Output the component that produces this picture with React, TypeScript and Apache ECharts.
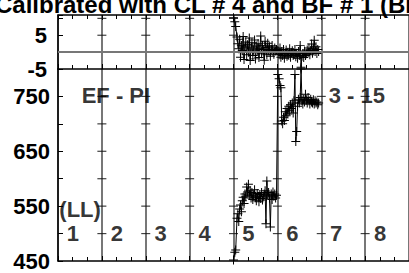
import React, { useEffect, useRef } from "react";
import * as echarts from "echarts";

const titleText = "Calibrated with CL # 4 and BF # 1 (BF)";

const xA = [4.00, 4.03, 4.05, 4.08, 4.10, 4.12, 4.14, 4.16, 4.18, 4.20, 4.22, 4.24, 4.26, 4.28, 4.30, 4.32, 4.34, 4.36, 4.38, 4.40, 4.42, 4.44, 4.46, 4.48, 4.50, 4.52, 4.54, 4.56, 4.58, 4.60, 4.62, 4.64, 4.66, 4.68, 4.70, 4.72, 4.74, 4.76, 4.78, 4.80, 4.82, 4.84, 4.86, 4.88, 4.90, 4.92, 4.94, 4.96, 4.98];
const lowA = [452, 466, 470, 528, 536, 522, 545, 552, 540, 560,
  566, 555, 572, 568, 585, 576, 590, 570, 578, 565,
  575, 562, 570, 580, 566, 560, 573, 568, 558, 571,
  564, 575, 561, 568, 572, 578, 518, 596, 570, 575,
  565, 512, 572, 562, 576, 568, 572, 565, 570];
const resA = [10.2, 9.0, 7.6, 4.5, 2.5, 1.0, 3.8, -1.5, 2.0, 0.5,
  4.6, -2.2, 1.5, 3.0, -0.8, 2.2, 0.0, 4.2, -2.5, 1.2,
  2.8, -1.0, 0.6, 3.6, -2.0, 1.8, 0.2, 2.5, -1.6, 1.0,
  4.8, -0.5, 2.0, 0.8, -2.4, 3.2, 1.4, -0.8, 2.6, 0.4,
  1.6, -1.2, 0.8, 2.0, 0.2, -0.6, 1.2, 0.4, 0.8];

const xB = [5.01, 5.04, 5.06, 5.08, 5.10, 5.12, 5.14, 5.16, 5.18, 5.20, 5.22, 5.24, 5.26, 5.28, 5.30, 5.32, 5.34, 5.36, 5.38, 5.40, 5.42, 5.44, 5.46, 5.48, 5.50, 5.52, 5.54, 5.56, 5.58, 5.60, 5.62, 5.64, 5.66, 5.68, 5.70, 5.72, 5.74, 5.76, 5.78, 5.80, 5.82, 5.84, 5.86, 5.88, 5.90, 5.92, 5.94];
const lowB = [790, 782, 770, 766, 705, 700, 712, 706, 722, 715,
  728, 718, 732, 724, 735, 728, 738, 720, 742, 790,
  668, 686, 732, 745, 738, 748, 800, 742, 736, 745,
  740, 754, 744, 738, 748, 742, 736, 745, 740, 738,
  744, 736, 742, 738, 740, 735, 738];
const resB = [0.5, -0.8, 1.2, -1.5, 0.2, -1.0, 0.8, -1.8, -0.4, 0.6,
  -1.2, 0.0, -0.9, 1.0, -1.5, -0.2, 0.4, -1.0, -0.6, 0.8,
  -1.4, -0.3, -1.8, 0.2, -1.0, 2.0, -4.5, -1.2, -0.4, -1.6,
  0.3, -1.0, -0.5, 0.6, -0.2, 1.2, -0.8, 0.5, 2.4, -0.3,
  1.0, 3.5, 0.2, 1.6, -0.4, 0.8, 0.2];

const sectionLines = [1, 2, 3, 4, 5, 6, 7];
const topTickValues = [0, 5, 10];
const lowerTickValues = [500, 550, 600, 650, 700, 750];
const topLabels = [5, -5];
const lowerLabels = [450, 550, 650, 750];

const sectionNames = ["1", "2", "3", "4", "5", "6", "7", "8"];
const sectionLabelY = 501;
const notes = [
  { text: "EF - PI", x: 0.54, y: 751 },
  { text: "3 - 15", x: 6.17, y: 752 },
  { text: "(LL)", x: 0.03, y: 543 },
];

const FONT = "'Liberation Sans', Arial, sans-serif";
const PLUS = "path://M4,0H5V4H9V5H5V9H4V5H0V4H4Z";

export default function App() {
  const ref = useRef<HTMLDivElement>(null);
  useEffect(() => {
    if (!ref.current) return;
    const chart = echarts.init(ref.current, null, { renderer: "svg" });
    const residual = [...xA.map((x, i) => [x, resA[i]]), ...xB.map((x, i) => [x, resB[i]])];
    const lower = [...xA.map((x, i) => [x, lowA[i]]), ...xB.map((x, i) => [x, lowB[i]])];
    const topCross: number[][] = [];
    sectionLines.forEach((s) => topTickValues.forEach((v) => topCross.push([s, v])));
    const lowCross: number[][] = [];
    sectionLines.forEach((s) => lowerTickValues.forEach((v) => lowCross.push([s, v])));

    const baseX = (grid: number, pos: "top" | "bottom", split: boolean) => ({
      type: "value",
      gridIndex: grid,
      position: pos,
      min: 0,
      max: 8,
      interval: 1,
      axisLine: { show: true, onZero: false, lineStyle: { color: "#000", width: 1.5 } },
      axisTick: { show: true, inside: true, length: 5, lineStyle: { color: "#000", width: 1 } },
      minorTick: { show: true, splitNumber: 3, length: 4, lineStyle: { color: "#000", width: 1 } },
      axisLabel: { show: false },
      splitLine: { show: split, lineStyle: { color: "#777", width: 2 } },
    });
    const labelStyle = { color: "#000", fontSize: 22, fontWeight: "bold", fontFamily: FONT };

    chart.setOption({
      animation: false,
      backgroundColor: "#fff",
      grid: [
        { left: 58, top: 15, width: 357, height: 54 },
        { left: 58, top: 69, width: 357, height: 192 },
      ],
      xAxis: [
        baseX(0, "bottom", true),
        baseX(0, "top", false),
        baseX(1, "bottom", true),
      ],
      yAxis: [
        {
          type: "value", gridIndex: 0, min: -5, max: 11, interval: 5,
          axisLine: { show: true, lineStyle: { color: "#000", width: 1.5 } },
          axisTick: { show: true, inside: true, length: 5, lineStyle: { color: "#000" } },
          splitLine: { show: false },
          axisLabel: {
            ...labelStyle, margin: 11,
            formatter: (v: number) => (topLabels.includes(v) ? String(v) : ""),
          },
        },
        {
          type: "value", gridIndex: 1, min: 450, max: 800, interval: 50,
          axisLine: { show: true, lineStyle: { color: "#000", width: 1.5 } },
          axisTick: { show: true, inside: true, length: 5, lineStyle: { color: "#000" } },
          splitLine: { show: false },
          axisLabel: {
            ...labelStyle, margin: 8,
            formatter: (v: number) => (lowerLabels.includes(v) ? String(v) : ""),
          },
        },
      ],
      series: [
        {
          type: "scatter", xAxisIndex: 0, yAxisIndex: 0, data: topCross, silent: true,
          symbol: "rect", symbolSize: [9, 1.2], itemStyle: { color: "#111" }, z: 3,
        },
        {
          type: "scatter", xAxisIndex: 2, yAxisIndex: 1, data: lowCross, silent: true,
          symbol: "rect", symbolSize: [9, 1.2], itemStyle: { color: "#111" }, z: 3,
        },
        {
          type: "line", xAxisIndex: 0, yAxisIndex: 0, data: residual,
          symbol: PLUS, symbolSize: 9, showAllSymbol: true,
          lineStyle: { color: "#000", width: 1 }, itemStyle: { color: "#000" },
          markLine: {
            silent: true, symbol: "none", label: { show: false },
            lineStyle: { color: "#777", width: 2, type: "solid" },
            data: [{ yAxis: 0 }],
          },
          z: 4,
        },
        {
          type: "line", xAxisIndex: 2, yAxisIndex: 1, data: lower,
          symbol: PLUS, symbolSize: 9, showAllSymbol: true,
          lineStyle: { color: "#000", width: 1 }, itemStyle: { color: "#000" }, z: 4,
        },
        {
          type: "scatter", xAxisIndex: 2, yAxisIndex: 1, silent: true,
          symbolSize: 0,
          data: [
            ...sectionNames.map((n, i) => ({ value: [i + 0.2, sectionLabelY], name: n })),
            ...notes.map((n) => ({ value: [n.x, n.y], name: n.text })),
          ],
          label: {
            show: true, position: "right", distance: 0,
            formatter: (p: any) => p.name, ...labelStyle,
          },
          z: 5,
        },
      ],
      graphic: [
        {
          type: "text", left: -5, top: -8,
          style: { text: titleText, fill: "#000", font: `bold 24px ${FONT}` },
        },
      ],
    });
    return () => chart.dispose();
  }, []);
  return (
    <div
      ref={ref}
      style={{ position: "fixed", left: 0, top: 0, width: 409, height: 273, background: "#fff" }}
    />
  );
}
